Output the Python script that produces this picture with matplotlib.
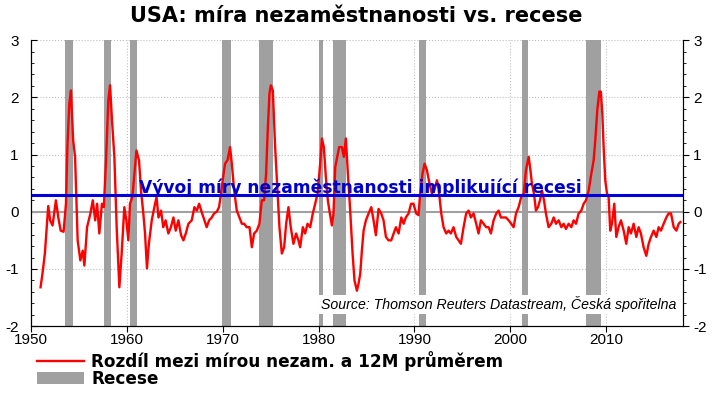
import matplotlib.pyplot as plt
from matplotlib.lines import Line2D
from matplotlib.patches import Patch

plt.rcParams['font.family'] = ['Liberation Sans', 'DejaVu Sans']
plt.rcParams['axes.unicode_minus'] = False

# (rok, rozdil mezi mirou nezam. a 12M prumerem)
roky = [1951.0, 1951.2, 1951.45, 1951.74, 1951.8, 1952.0, 1952.25, 1952.6, 1952.85, 1953.1,
        1953.4, 1953.65, 1953.8, 1954.0, 1954.17, 1954.4, 1954.6, 1954.87, 1955.15, 1955.4,
        1955.57, 1955.85, 1956.2, 1956.45, 1956.7, 1956.9, 1957.13, 1957.4, 1957.6, 1957.83,
        1958.07, 1958.25, 1958.45, 1958.7, 1958.94, 1959.22, 1959.46, 1959.74, 1959.95, 1960.16,
        1960.33, 1960.58, 1960.85, 1961.0, 1961.27, 1961.48, 1961.72, 1961.9, 1962.1, 1962.3,
        1962.6, 1962.87, 1963.1, 1963.3, 1963.57, 1963.8, 1964.05, 1964.33, 1964.6, 1964.86,
        1965.1, 1965.38, 1965.66, 1965.9, 1966.15, 1966.42, 1966.77, 1967.05, 1967.3, 1967.54,
        1967.8, 1968.1, 1968.33, 1968.58, 1968.86, 1969.1, 1969.38, 1969.62, 1969.83, 1970.0,
        1970.25, 1970.5, 1970.77, 1970.95, 1971.2, 1971.47, 1971.75, 1972.0, 1972.24, 1972.5,
        1972.8, 1973.04, 1973.28, 1973.56, 1973.83, 1974.08, 1974.32, 1974.53, 1974.7, 1974.88,
        1975.02, 1975.23, 1975.47, 1975.71, 1975.92, 1976.17, 1976.41, 1976.62, 1976.86, 1977.1,
        1977.38, 1977.66, 1977.9, 1978.08, 1978.36, 1978.6, 1978.85, 1979.13, 1979.4, 1979.65,
        1979.9, 1980.17, 1980.35, 1980.55, 1980.76, 1980.97, 1981.18, 1981.39, 1981.56, 1981.74,
        1981.95, 1982.15, 1982.43, 1982.64, 1982.85, 1983.06, 1983.3, 1983.55, 1983.75, 1984.0,
        1984.17, 1984.35, 1984.52, 1984.7, 1984.94, 1985.22, 1985.5, 1985.74, 1985.98, 1986.26,
        1986.54, 1986.78, 1987.03, 1987.3, 1987.58, 1987.83, 1988.07, 1988.35, 1988.63, 1988.87,
        1989.1, 1989.39, 1989.65, 1989.9, 1990.19, 1990.43, 1990.6, 1990.85, 1991.06, 1991.3,
        1991.58, 1991.82, 1992.07, 1992.35, 1992.55, 1992.8, 1993.04, 1993.32, 1993.56, 1993.8,
        1994.08, 1994.36, 1994.6, 1994.85, 1995.13, 1995.4, 1995.65, 1995.89, 1996.17, 1996.45,
        1996.69, 1996.94, 1997.22, 1997.49, 1997.74, 1997.98, 1998.26, 1998.54, 1998.78, 1999.02,
        1999.3, 1999.55, 1999.83, 2000.1, 2000.35, 2000.6, 2000.87, 2001.15, 2001.4, 2001.64,
        2001.92, 2002.1, 2002.26, 2002.47, 2002.68, 2002.89, 2003.1, 2003.31, 2003.52, 2003.72,
        2004.0, 2004.28, 2004.53, 2004.77, 2005.05, 2005.33, 2005.57, 2005.81, 2006.09, 2006.37,
        2006.61, 2006.86, 2007.13, 2007.41, 2007.66, 2007.9, 2008.18, 2008.46, 2008.7, 2008.87,
        2009.08, 2009.29, 2009.45, 2009.6, 2009.74, 2009.91, 2010.09, 2010.26, 2010.43, 2010.61,
        2010.85, 2011.06, 2011.3, 2011.55, 2011.83, 2012.1, 2012.35, 2012.59, 2012.87, 2013.15,
        2013.39, 2013.63, 2013.91, 2014.19, 2014.44, 2014.68, 2014.96, 2015.24, 2015.48, 2015.72,
        2016.0, 2016.28, 2016.52, 2016.77, 2017.05, 2017.33, 2017.57, 2017.74]
rozdil = [-1.32, -1.08, -0.73, -0.03, 0.10, -0.15, -0.24, 0.20, -0.10, -0.33,
          -0.35, 0.14, 1.13, 1.89, 2.12, 1.25, 0.96, -0.50, -0.85, -0.68,
          -0.94, -0.27, -0.03, 0.20, -0.15, 0.14, -0.38, 0.14, 0.08, 0.90,
          1.95, 2.21, 1.60, 0.96, -0.27, -1.32, -0.73, 0.08, -0.15, -0.50,
          0.14, 0.26, 0.78, 1.07, 0.90, 0.37, -0.03, -0.38, -0.99, -0.56,
          -0.15, 0.08, 0.26, -0.10, 0.02, -0.27, -0.15, -0.38, -0.27, -0.10,
          -0.33, -0.15, -0.41, -0.50, -0.38, -0.21, -0.15, 0.08, 0.02, 0.14,
          0.00, -0.15, -0.27, -0.15, -0.10, -0.03, 0.00, 0.08, 0.32, 0.55,
          0.84, 0.90, 1.13, 0.84, 0.37, 0.02, -0.10, -0.21, -0.21, -0.27,
          -0.27, -0.62, -0.38, -0.33, -0.21, 0.20, 0.20, 0.67, 1.43, 2.07,
          2.21, 2.12, 1.13, 0.37, -0.27, -0.73, -0.62, -0.21, 0.08, -0.27,
          -0.56, -0.38, -0.50, -0.62, -0.27, -0.38, -0.21, -0.27, -0.03, 0.14,
          0.32, 0.84, 1.28, 1.13, 0.61, 0.20, -0.03, -0.24, -0.03, 0.78,
          0.96, 1.13, 1.13, 0.96, 1.28, 0.67, 0.02, -0.73, -1.20, -1.38,
          -1.26, -1.08, -0.68, -0.33, -0.15, -0.03, 0.08, -0.15, -0.41, 0.05,
          -0.03, -0.15, -0.44, -0.50, -0.50, -0.38, -0.27, -0.38, -0.10, -0.21,
          -0.10, -0.03, 0.14, 0.14, -0.03, -0.06, 0.32, 0.67, 0.84, 0.73,
          0.49, 0.32, 0.37, 0.55, 0.37, -0.03, -0.27, -0.38, -0.33, -0.38,
          -0.27, -0.44, -0.50, -0.56, -0.27, -0.03, 0.02, -0.10, -0.03, -0.21,
          -0.38, -0.15, -0.21, -0.27, -0.27, -0.38, -0.15, -0.03, 0.02, -0.10,
          -0.10, -0.10, -0.15, -0.21, -0.27, -0.03, 0.08, 0.26, 0.32, 0.73,
          0.96, 0.73, 0.49, 0.32, 0.02, 0.08, 0.20, 0.37, 0.20, -0.03,
          -0.27, -0.21, -0.10, -0.21, -0.15, -0.27, -0.21, -0.30, -0.21, -0.27,
          -0.15, -0.21, -0.03, 0.02, 0.14, 0.20, 0.37, 0.67, 0.90, 1.25,
          1.78, 2.10, 2.10, 1.72, 1.13, 0.55, 0.32, 0.26, -0.33, -0.21,
          0.14, -0.44, -0.27, -0.15, -0.33, -0.56, -0.27, -0.38, -0.21, -0.44,
          -0.27, -0.38, -0.62, -0.77, -0.56, -0.44, -0.33, -0.44, -0.27, -0.33,
          -0.21, -0.10, -0.03, -0.03, -0.27, -0.33, -0.21, -0.18]

# recese (zacatek, konec)
recese_od = [1953.5, 1957.6, 1960.3, 1969.9, 1973.8, 1980.0, 1981.5, 1990.5, 2001.2, 2007.9]
recese_do = [1954.4, 1958.3, 1961.1, 1970.9, 1975.2, 1980.5, 1982.9, 1991.2, 2001.9, 2009.5]

prah = 0.3
dekady = [1950, 1960, 1970, 1980, 1990, 2000, 2010]

fig = plt.figure(figsize=(7.12, 3.93), dpi=100)
ax = fig.add_axes([0.0435, 0.17, 0.9155, 0.728])

for a, b in zip(recese_od, recese_do):
    ax.axvspan(a, b, color='#a0a0a0', lw=0, zorder=1)

for y in [-1, 1, 2, 3]:
    ax.axhline(y, color='#c0c0c0', lw=0.8, ls=':', zorder=0)
for x in dekady[1:]:
    ax.axvline(x, color='#c0c0c0', lw=0.8, ls=':', zorder=0)
ax.axhline(0, color='#a0a0a0', lw=1.5, zorder=2)

ax.plot(roky, rozdil, color='red', lw=1.7, zorder=4)
ax.axhline(prah, color='#0000dd', lw=2.2, zorder=5)
ax.text(1961.3, prah + 0.03, 'Vývoj míry nezaměstnanosti implikující recesi', color='#0000cc',
        fontsize=12.3, fontweight='bold', family='DejaVu Sans', va='baseline', zorder=6)

ax.text(2017.3, -1.62, 'Source: Thomson Reuters Datastream, Česká spořitelna', fontsize=10.2,
        style='italic', ha='right', va='center', zorder=7,
        bbox=dict(facecolor='white', edgecolor='none', pad=1))

ax.set_xlim(1950, 2018)
ax.set_ylim(-2, 3)
ax.set_xticks(dekady)
ax.set_yticks(range(-2, 4))
ax.set_yticks([v / 5 for v in range(-10, 16)], minor=True)
ax.tick_params(axis='y', direction='in', labelsize=11, length=4, pad=9)
ax.tick_params(axis='y', which='minor', direction='in', length=2.5)
ax.tick_params(axis='x', direction='out', labelsize=11, length=4, pad=1)
ax.spines['top'].set_visible(False)

ax2 = ax.twinx()
ax2.set_ylim(-2, 3)
ax2.set_yticks(range(-2, 4))
ax2.set_yticks([v / 5 for v in range(-10, 16)], minor=True)
ax2.tick_params(axis='y', direction='out', labelsize=11, length=4)
ax2.tick_params(axis='y', which='minor', direction='out', length=2.5)
ax2.spines['top'].set_visible(False)

fig.text(0.5, 0.96, 'USA: míra nezaměstnanosti vs. recese', ha='center', va='center',
         fontsize=15, fontweight='bold', family='DejaVu Sans')

handles = [Line2D([0], [0], color='red', lw=1.7),
           Patch(facecolor='#a0a0a0', edgecolor='none')]
fig.legend(handles, ['Rozdíl mezi mírou nezam. a 12M průměrem', 'Recese'],
           loc='upper left', bbox_to_anchor=(0.052, 0.106), frameon=False,
           prop={'size': 12.2, 'weight': 'bold', 'family': 'DejaVu Sans'},
           handlelength=2.75, handletextpad=0.45, labelspacing=-0.08,
           borderpad=0, borderaxespad=0)

fig.savefig('out.png', dpi=100)
